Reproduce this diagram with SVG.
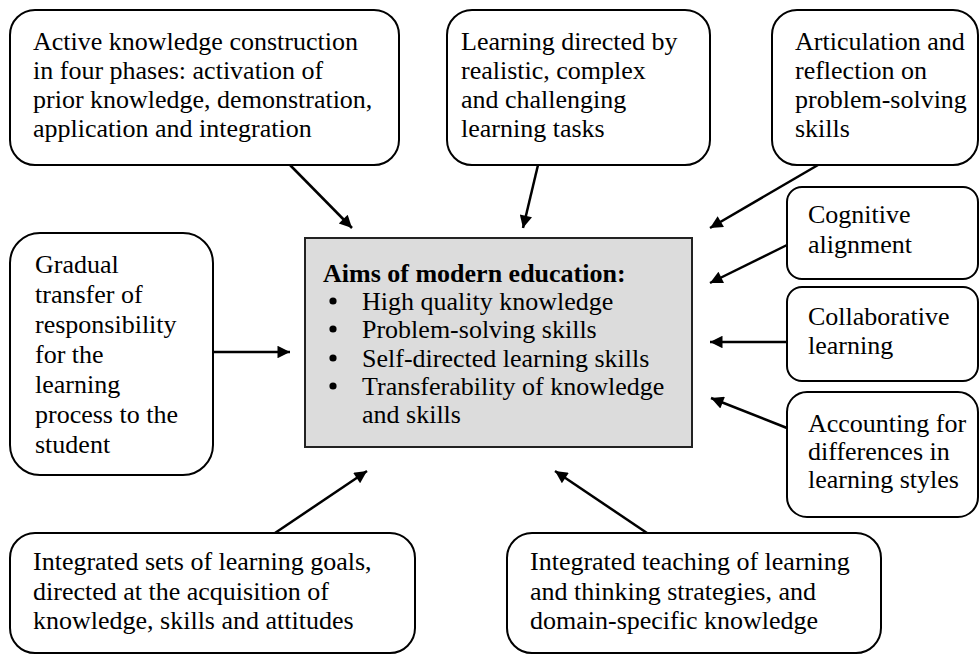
<svg xmlns="http://www.w3.org/2000/svg" width="980" height="655" viewBox="0 0 980 655">
<defs>
<marker id="ah" viewBox="0 0 10 10" refX="10" refY="5" markerWidth="6" markerHeight="5" markerUnits="strokeWidth" orient="auto">
<path d="M0,0 L10,5 L0,10 Z" fill="#000"/>
</marker>
</defs>
<rect width="980" height="655" fill="#fff"/>

<g id="connectors" stroke="#000" stroke-width="2.5">
<line x1="290" y1="165" x2="352" y2="228" marker-end="url(#ah)"/>
<line x1="538" y1="165" x2="523" y2="228" marker-end="url(#ah)"/>
<line x1="818" y1="165" x2="710" y2="228" marker-end="url(#ah)"/>
<line x1="787" y1="245" x2="710" y2="283" marker-end="url(#ah)"/>
<line x1="787" y1="342" x2="710" y2="342" marker-end="url(#ah)"/>
<line x1="787" y1="428" x2="711" y2="398" marker-end="url(#ah)"/>
<line x1="213" y1="352" x2="290" y2="352" marker-end="url(#ah)"/>
<line x1="275" y1="533" x2="367" y2="471" marker-end="url(#ah)"/>
<line x1="647" y1="533" x2="555" y2="471" marker-end="url(#ah)"/>
</g>

<g font-size="26" font-family="Liberation Serif">
<g id="center">
<rect fill="#dcdcdc" stroke="#222" stroke-width="2" x="305" y="238" width="387" height="209"/>
<text font-weight="bold" x="323" y="282">Aims of modern education:</text>
<circle cx="333" cy="301" r="3.6" fill="#000"/><text x="362" y="310">High quality knowledge</text>
<circle cx="333" cy="329" r="3.6" fill="#000"/><text x="362" y="338">Problem-solving skills</text>
<circle cx="333" cy="358" r="3.6" fill="#000"/><text x="362" y="367">Self-directed learning skills</text>
<circle cx="333" cy="386" r="3.6" fill="#000"/><text x="362" y="395">Transferability of knowledge</text>
<text x="362" y="423">and skills</text>
</g>

<g id="n-active">
<rect fill="#fff" stroke="#000" stroke-width="2" x="10" y="10" width="389" height="155" rx="25"/>
<text x="33" y="50">Active knowledge construction</text>
<text x="33" y="79">in four phases: activation of</text>
<text x="33" y="108">prior knowledge, demonstration,</text>
<text x="33" y="137">application and integration</text>
</g>

<g id="n-learning-tasks">
<rect fill="#fff" stroke="#000" stroke-width="2" x="447" y="10" width="263" height="155" rx="25"/>
<text x="461" y="50">Learning directed by</text>
<text x="461" y="79">realistic, complex</text>
<text x="461" y="108">and challenging</text>
<text x="461" y="137">learning tasks</text>
</g>

<g id="n-articulation">
<rect fill="#fff" stroke="#000" stroke-width="2" x="772" y="10" width="206" height="155" rx="25"/>
<text x="795" y="50">Articulation and</text>
<text x="795" y="79">reflection on</text>
<text x="795" y="108">problem-solving</text>
<text x="795" y="137">skills</text>
</g>

<g id="n-cognitive">
<rect fill="#fff" stroke="#000" stroke-width="2" x="787" y="187" width="191" height="92" rx="15"/>
<text x="808" y="223">Cognitive</text>
<text x="808" y="253">alignment</text>
</g>

<g id="n-collaborative">
<rect fill="#fff" stroke="#000" stroke-width="2" x="787" y="287" width="191" height="94" rx="15"/>
<text x="808" y="325">Collaborative</text>
<text x="808" y="354">learning</text>
</g>

<g id="n-styles">
<rect fill="#fff" stroke="#000" stroke-width="2" x="787" y="392" width="191" height="125" rx="20"/>
<text x="808" y="432">Accounting for</text>
<text x="808" y="460">differences in</text>
<text x="808" y="488">learning styles</text>
</g>

<g id="n-gradual">
<rect fill="#fff" stroke="#000" stroke-width="2" x="10" y="233" width="203" height="242" rx="30"/>
<text x="35" y="273">Gradual</text>
<text x="35" y="303">transfer of</text>
<text x="35" y="333">responsibility</text>
<text x="35" y="363">for the</text>
<text x="35" y="393">learning</text>
<text x="35" y="423">process to the</text>
<text x="35" y="453">student</text>
</g>

<g id="n-goals">
<rect fill="#fff" stroke="#000" stroke-width="2" x="10" y="533" width="405" height="120" rx="25"/>
<text x="33" y="570">Integrated sets of learning goals,</text>
<text x="33" y="600">directed at the acquisition of</text>
<text x="33" y="629">knowledge, skills and attitudes</text>
</g>

<g id="n-teaching">
<rect fill="#fff" stroke="#000" stroke-width="2" x="507" y="533" width="374" height="120" rx="25"/>
<text x="530" y="570">Integrated teaching of learning</text>
<text x="530" y="600">and thinking strategies, and</text>
<text x="530" y="629">domain-specific knowledge</text>
</g>
</g>
</svg>
